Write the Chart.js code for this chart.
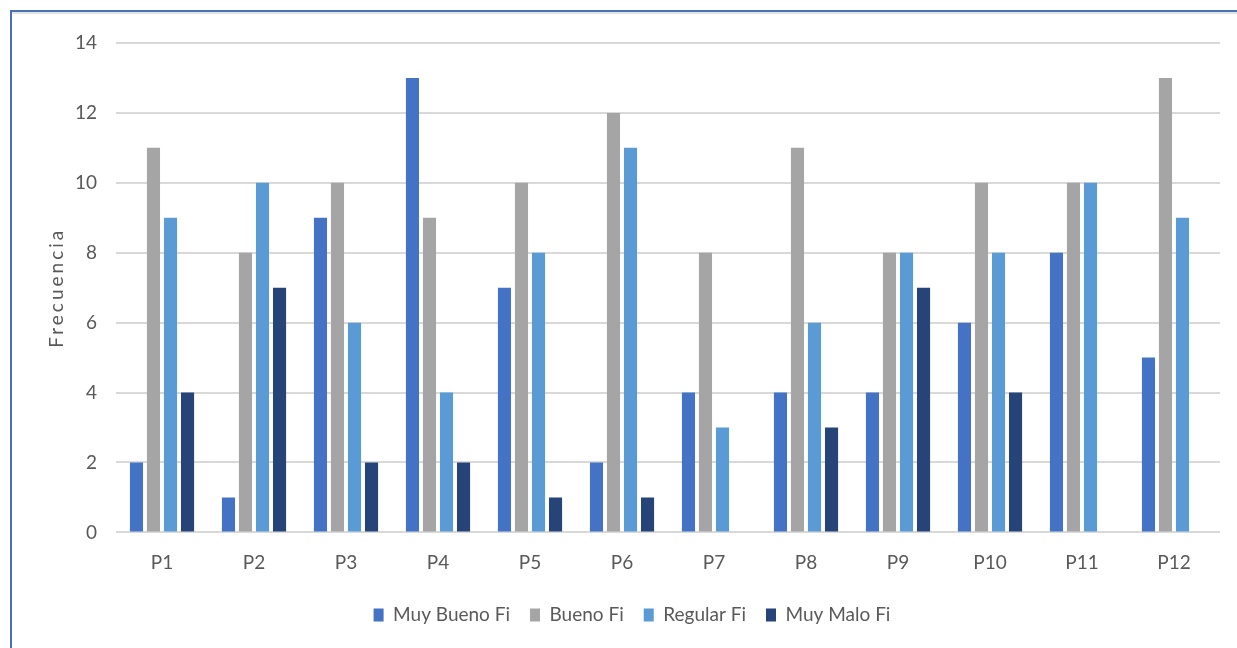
<!DOCTYPE html>
<html>
<head>
<meta charset="utf-8">
<script src="https://cdn.jsdelivr.net/npm/chart.js@4"></script>
<style>
  html, body { margin: 0; padding: 0; background: #ffffff; }
  #wrap { position: relative; width: 1237px; height: 648px; }
</style>
</head>
<body>
<div id="wrap"><canvas id="chart"></canvas></div>
<script>
// Preguntas evaluadas
const categories = ['P1', 'P2', 'P3', 'P4', 'P5', 'P6', 'P7', 'P8', 'P9', 'P10', 'P11', 'P12'];

// Frecuencias por nivel de respuesta
const muyBueno = [2, 1, 9, 13, 7, 2, 4, 4, 4, 6, 8, 5];
const bueno    = [11, 8, 10, 9, 10, 12, 8, 11, 8, 10, 10, 13];
const regular  = [9, 10, 6, 4, 8, 11, 3, 6, 8, 8, 10, 9];
const muyMalo  = [4, 7, 2, 2, 1, 1, 0, 3, 7, 4, 0, 0];

const seriesNames = ['Muy Bueno Fi', 'Bueno Fi', 'Regular Fi', 'Muy Malo Fi'];
const seriesColors = ['#4472C4', '#A5A5A5', '#5B9BD5', '#264478'];

const yTicks = [0, 2, 4, 6, 8, 10, 12, 14];
const yTitle = 'Frecuencia';

const FONT = 'Lato, sans-serif';
const TEXT = '#595959';

// Marco azul del recuadro (borde superior e izquierdo)
const framePlugin = {
  id: 'frame',
  afterDraw(chart) {
    const ctx = chart.ctx;
    ctx.save();
    ctx.fillStyle = '#e3e3e3';
    ctx.fillRect(12, 12, chart.width - 12, 2);
    ctx.fillStyle = '#4a70b8';
    ctx.fillRect(10, 10, chart.width - 10, 2);
    ctx.fillRect(10, 10, 2, chart.height - 10);
    ctx.restore();
  }
};

// Título vertical del eje Y, con espaciado entre letras
const yTitlePlugin = {
  id: 'yTitle',
  afterDraw(chart) {
    const ctx = chart.ctx;
    const area = chart.chartArea;
    ctx.save();
    ctx.translate(57, (area.top + area.bottom) / 2);
    ctx.rotate(-Math.PI / 2);
    ctx.font = '19px ' + FONT;
    if ('letterSpacing' in ctx) ctx.letterSpacing = '3px';
    ctx.fillStyle = TEXT;
    ctx.textAlign = 'center';
    ctx.textBaseline = 'middle';
    ctx.fillText(yTitle, 0, 0);
    ctx.restore();
  }
};

const sets = [muyBueno, bueno, regular, muyMalo].map((vals, i) => ({
  label: seriesNames[i],
  data: vals,
  backgroundColor: seriesColors[i],
  borderWidth: 0,
  categoryPercentage: 0.74,
  barPercentage: 0.77
}));

new Chart(document.getElementById('chart'), {
  type: 'bar',
  data: { labels: categories, datasets: sets },
  plugins: [framePlugin, yTitlePlugin],
  options: {
    responsive: true,
    maintainAspectRatio: false,
    animation: false,
    layout: { padding: { left: 44, right: 17, top: 43, bottom: 13.6 } },
    plugins: {
      title: { display: false },
      tooltip: { enabled: false },
      legend: {
        position: 'bottom',
        labels: {
          font: { family: FONT, size: 19 },
          color: TEXT,
          boxWidth: 10,
          boxHeight: 13,
          padding: 20
        }
      }
    },
    scales: {
      x: {
        grid: { display: false },
        border: { display: false },
        ticks: { font: { family: FONT, size: 19 }, color: TEXT, padding: 11 },
        afterFit(scale) { scale.height = 53; }
      },
      y: {
        min: 0,
        max: 14,
        afterBuildTicks(scale) { scale.ticks = yTicks.map(v => ({ value: v })); },
        grid: { color: '#d9d9d9', lineWidth: 2, drawTicks: false },
        border: { display: false },
        ticks: { font: { family: FONT, size: 19 }, color: TEXT, padding: 19 },
        title: { display: false },
        afterFit(scale) { scale.width = 72; }
      }
    }
  }
});
</script>
</body>
</html>
